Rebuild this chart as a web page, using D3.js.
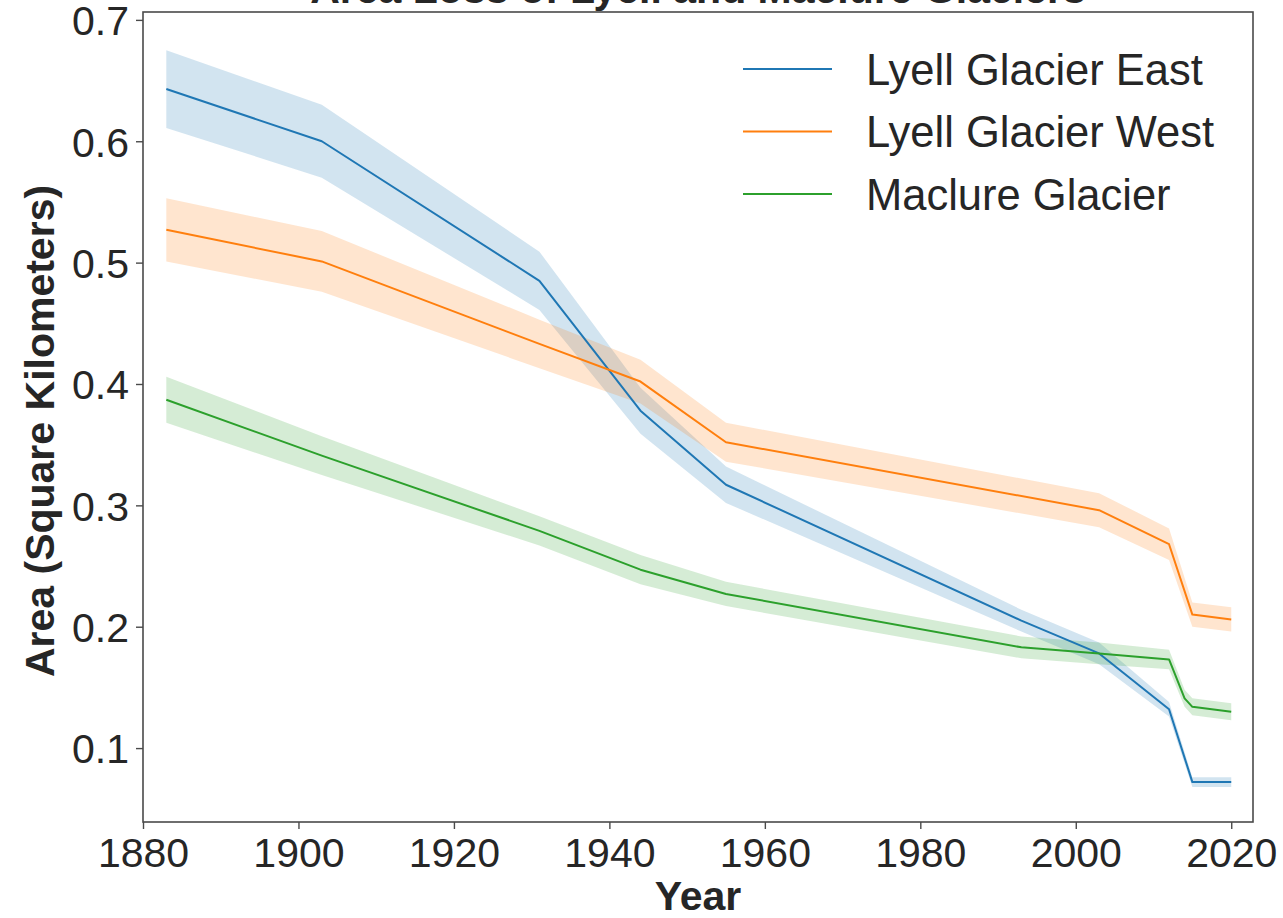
<!DOCTYPE html>
<html>
<head>
<meta charset="utf-8">
<script src="https://cdn.jsdelivr.net/npm/d3@7"></script>
<style>
  html, body { margin: 0; padding: 0; background: #fff; }
  svg { display: block; font-family: "Liberation Sans", Arial, sans-serif; }
</style>
</head>
<body>
<svg id="chart" width="1283" height="918"></svg>
<script>
// ---- data ----
const title = "Area Loss of Lyell and Maclure Glaciers";
const xLabel = "Year";
const yLabel = "Area (Square Kilometers)";
const seriesNames = ["Lyell Glacier East", "Lyell Glacier West", "Maclure Glacier"];
const seriesColors = ["#1f77b4", "#ff7f0e", "#2ca02c"];

const eastYears = [1883, 1903, 1931, 1944, 1955, 1993, 2003, 2012, 2015, 2020];
const eastArea  = [0.643, 0.600, 0.485, 0.378, 0.317, 0.205, 0.178, 0.132, 0.072, 0.072];
const eastCI    = [0.032, 0.030, 0.024, 0.019, 0.015, 0.009, 0.009, 0.006, 0.004, 0.004];

const westYears = [1883, 1903, 1931, 1944, 1955, 2003, 2012, 2015, 2020];
const westArea  = [0.527, 0.501, 0.433, 0.402, 0.352, 0.296, 0.268, 0.210, 0.206];
const westCI    = [0.026, 0.025, 0.020, 0.018, 0.016, 0.014, 0.013, 0.010, 0.010];

const maclureYears = [1883, 1903, 1931, 1944, 1955, 1993, 2003, 2012, 2014, 2015, 2020];
const maclureArea  = [0.387, 0.341, 0.279, 0.247, 0.227, 0.183, 0.178, 0.173, 0.141, 0.134, 0.130];
const maclureCI    = [0.019, 0.016, 0.012, 0.012, 0.010, 0.009, 0.009, 0.008, 0.007, 0.007, 0.007];

const xTicks = [1880, 1900, 1920, 1940, 1960, 1980, 2000, 2020];
const yTicks = [0.1, 0.2, 0.3, 0.4, 0.5, 0.6, 0.7];
const xDomain = [1880, 2022.8];
const yDomain = [0.0391, 0.7065];

// ---- build ----
const series = [
  {name: seriesNames[0], color: seriesColors[0], years: eastYears, area: eastArea, ci: eastCI},
  {name: seriesNames[1], color: seriesColors[1], years: westYears, area: westArea, ci: westCI},
  {name: seriesNames[2], color: seriesColors[2], years: maclureYears, area: maclureArea, ci: maclureCI}
].map(s => ({...s, pts: s.years.map((y, i) => ({x: y, v: s.area[i], lo: s.area[i] - s.ci[i], hi: s.area[i] + s.ci[i]}))}));

const svg = d3.select("#chart");
const m = {left: 143, right: 1283 - 1253, top: 12, bottom: 918 - 822};
const W = 1283 - m.left - m.right;
const H = 918 - m.top - m.bottom;
const textColor = "#262626";
const FS = 41;
const LFS = 43.5;

const x = d3.scaleLinear().domain(xDomain).range([0, W]);
const y = d3.scaleLinear().domain(yDomain).range([H, 0]);

const g = svg.append("g").attr("transform", `translate(${m.left},${m.top})`);

// bands
series.forEach(s => {
  g.append("path")
    .datum(s.pts)
    .attr("fill", s.color)
    .attr("fill-opacity", 0.2)
    .attr("stroke", "none")
    .attr("d", d3.area().x(d => x(d.x)).y0(d => y(d.lo)).y1(d => y(d.hi)));
});
// lines
series.forEach(s => {
  g.append("path")
    .datum(s.pts)
    .attr("fill", "none")
    .attr("stroke", s.color)
    .attr("stroke-width", 2)
    .attr("stroke-linejoin", "round")
    .attr("d", d3.line().x(d => x(d.x)).y(d => y(d.v)));
});

// frame
g.append("rect").attr("x", 0).attr("y", 0).attr("width", W).attr("height", H)
  .attr("fill", "none").attr("stroke", "#4a4a4a").attr("stroke-width", 1.6);

// axes
const xAxis = g.append("g").attr("transform", `translate(0,${H})`)
  .call(d3.axisBottom(x).tickValues(xTicks).tickFormat(d3.format("d")).tickSize(7).tickPadding(6));
const yAxis = g.append("g")
  .call(d3.axisLeft(y).tickValues(yTicks).tickFormat(d3.format(".1f")).tickSize(7).tickPadding(7));
[xAxis, yAxis].forEach(a => {
  a.select(".domain").remove();
  a.selectAll(".tick line").attr("stroke", "#4a4a4a").attr("stroke-width", 1.4);
  a.selectAll(".tick text").attr("fill", textColor).style("font-size", FS + "px")
    .style("font-family", "'Liberation Sans', Arial, sans-serif");
});
xAxis.selectAll(".tick text").attr("dy", "0.78em");
yAxis.selectAll(".tick text").attr("dy", "0.36em");

// axis labels
svg.append("text")
  .attr("x", m.left + W / 2).attr("y", 910)
  .attr("text-anchor", "middle").attr("fill", textColor)
  .style("font-size", FS + "px").style("font-weight", "bold")
  .text(xLabel);
svg.append("text")
  .attr("transform", `translate(54,${m.top + H / 2 + 14}) rotate(-90)`)
  .attr("text-anchor", "middle").attr("fill", textColor)
  .style("font-size", FS + "px").style("font-weight", "bold")
  .text(yLabel);

// title (mostly cut off at top)
svg.append("text")
  .attr("x", m.left + W / 2).attr("y", 3)
  .attr("text-anchor", "middle").attr("fill", textColor)
  .style("font-size", FS + "px").style("font-weight", "bold")
  .text(title);

// legend
const leg = svg.append("g").attr("transform", "translate(743,69)");
series.forEach((s, i) => {
  const row = leg.append("g").attr("transform", `translate(0,${i * 62.5})`);
  row.append("line").attr("x1", 0).attr("x2", 89).attr("y1", 0).attr("y2", 0)
    .attr("stroke", s.color).attr("stroke-width", 2);
  row.append("text").attr("x", 123).attr("y", 0).attr("dy", "0.36em")
    .attr("fill", textColor).style("font-size", LFS + "px").text(s.name);
});
</script>
</body>
</html>
